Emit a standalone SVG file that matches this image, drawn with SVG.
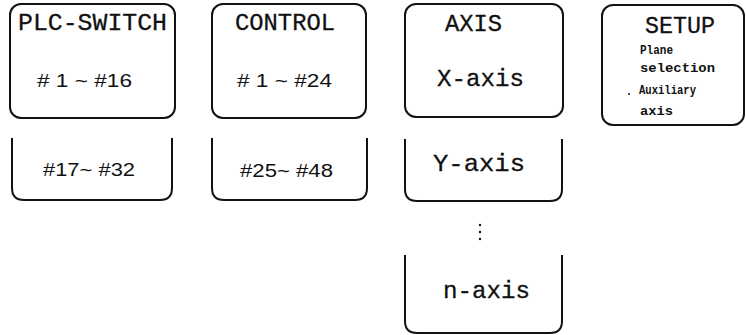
<svg xmlns="http://www.w3.org/2000/svg" width="746" height="335" viewBox="0 0 746 335">
<style>
.box{fill:none;stroke:#111;stroke-width:2}
.mono{font-family:"Liberation Mono","DejaVu Sans Mono",monospace;fill:#111;stroke:#111;stroke-width:0.3}
.t{font-size:24px}
.sans{font-family:"Liberation Sans","DejaVu Sans",sans-serif;fill:#111;font-size:18px}
.small{font-family:"Liberation Mono","DejaVu Sans Mono",monospace;fill:#111;font-size:13px;font-weight:bold}
</style>
<rect width="746" height="335" fill="#fff"/>
<g id="plc-switch">
<rect class="box" x="10" y="4" width="165" height="114" rx="11"/>
<text class="mono t" x="18" y="30" textLength="149" lengthAdjust="spacingAndGlyphs">PLC-SWITCH</text>
<text class="sans" x="37" y="87" textLength="95" lengthAdjust="spacingAndGlyphs"># 1 ~ #16</text>
</g>
<g id="plc-switch-2">
<path class="box" d="M12,138 V188 Q12,200 24,200 H160 Q172,200 172,188 V138"/>
<text class="sans" x="43" y="176" textLength="92" lengthAdjust="spacingAndGlyphs">#17~ #32</text>
</g>
<g id="control">
<rect class="box" x="212" y="4" width="154" height="114" rx="11"/>
<text class="mono t" x="235" y="30" textLength="100" lengthAdjust="spacingAndGlyphs">CONTROL</text>
<text class="sans" x="237" y="87" textLength="95" lengthAdjust="spacingAndGlyphs"># 1 ~ #24</text>
</g>
<g id="control-2">
<path class="box" d="M212,138 V188 Q212,200 224,200 H355 Q367,200 367,188 V138"/>
<text class="sans" x="240" y="177" textLength="93" lengthAdjust="spacingAndGlyphs">#25~ #48</text>
</g>
<g id="axis">
<rect class="box" x="405" y="4" width="158" height="113" rx="11"/>
<text class="mono t" x="445" y="31" textLength="57" lengthAdjust="spacingAndGlyphs">AXIS</text>
<text class="mono t" x="437" y="86" textLength="87" lengthAdjust="spacingAndGlyphs">X-axis</text>
</g>
<g id="y-axis">
<path class="box" d="M405,139 V189 Q405,201 417,201 H550 Q562,201 562,189 V139"/>
<text class="mono t" x="433" y="171" textLength="92" lengthAdjust="spacingAndGlyphs">Y-axis</text>
</g>
<g id="ellipsis">
<circle cx="480" cy="225" r="1.2" fill="#111"/>
<circle cx="480" cy="232" r="1.2" fill="#111"/>
<circle cx="480" cy="239" r="1.2" fill="#111"/>
</g>
<g id="n-axis">
<path class="box" d="M405,255 V321 Q405,333 417,333 H550 Q562,333 562,321 V255"/>
<text class="mono t" x="443" y="298" textLength="87" lengthAdjust="spacingAndGlyphs">n-axis</text>
</g>
<g id="setup">
<rect class="box" x="602" y="5" width="142" height="120" rx="11"/>
<text class="mono t" x="645" y="33" textLength="70" lengthAdjust="spacingAndGlyphs">SETUP</text>
<text class="small" x="640" y="54" textLength="33" lengthAdjust="spacingAndGlyphs">Plane</text>
<text class="small" x="640" y="72" textLength="75" lengthAdjust="spacingAndGlyphs">selection</text>
<circle cx="629" cy="94" r="1" fill="#111"/>
<text class="small" x="639" y="94" textLength="57" lengthAdjust="spacingAndGlyphs">Auxiliary</text>
<text class="small" x="640" y="115" textLength="33" lengthAdjust="spacingAndGlyphs">axis</text>
</g>
</svg>
